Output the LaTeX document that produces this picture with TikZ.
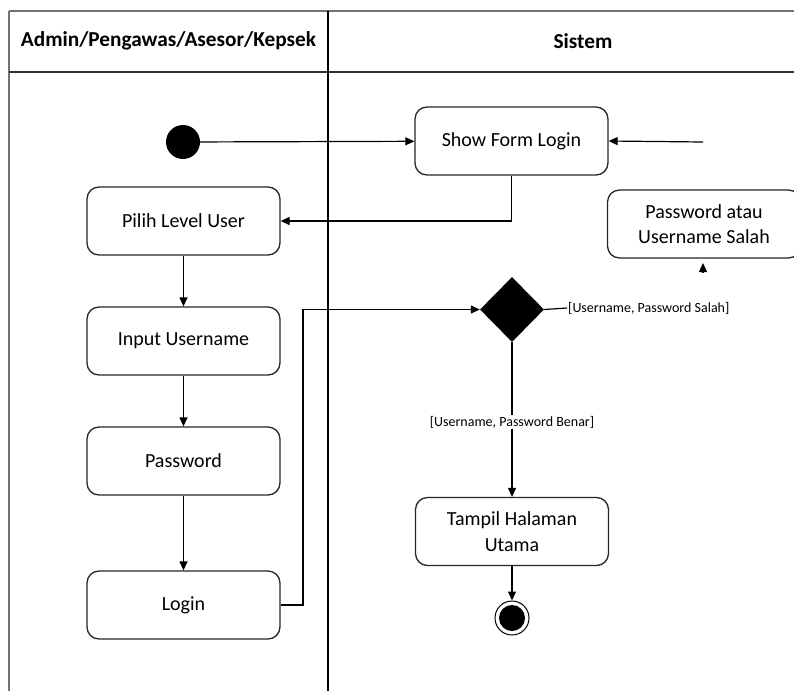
\documentclass[tikz,border=0pt]{standalone}
\usepackage{fontspec}
\setmainfont{Carlito}
\usetikzlibrary{arrows.meta,shapes.geometric}
\begin{document}
\begin{tikzpicture}[x=1pt,y=-1pt,
  act/.style={draw=black!85,line width=1.3pt,rounded corners=12pt,minimum width=193pt,minimum height=68pt,align=center,font=\fontsize{20}{25.5}\selectfont,fill=white,inner sep=2pt},
  arr/.style={line width=1.2pt,-{Triangle[length=9pt,width=8pt]}},
  ln/.style={line width=1.2pt},
  guard/.style={font=\fontsize{14}{16}\selectfont,inner sep=1pt,fill=white},
  lane/.style={line width=2pt},
  hdr/.style={font=\bfseries\fontsize{21.3}{24}\selectfont}]
\useasboundingbox (0,0) rectangle (794,691);
\fill[white] (0,0) rectangle (794,691);
% swimlane frame
\draw[lane,draw=black!55] (9,11) -- (794,11);
\draw[lane,draw=black!55] (9,11) -- (9,691);
\draw[lane,draw=black!80] (9,72) -- (794,72);
\draw[lane,draw=black] (328,11) -- (328,691);
\node[hdr] (h1) at (168.5,41) {Admin/Pengawas/Asesor/Kepsek};
\node[hdr] (h2) at (583,41) {Sistem};
% nodes
\node[circle,fill=black,minimum size=34pt,inner sep=0pt] (start) at (183,142) {};
\node[act] (sf) at (511.5,141) {Show Form Login};
\node[act] (pilih) at (183.5,221) {Pilih Level User};
\node[act] (input) at (183.5,341) {Input Username};
\node[act] (pass) at (183.5,461) {Password};
\node[act] (login) at (183.5,605) {Login};
\node[act] (pw) at (704,224) {Password atau\\Username Salah};
\node[diamond,fill=black,minimum width=64pt,minimum height=65pt,inner sep=0pt] (dec) at (512,309.5) {};
\node[guard,anchor=west] (salah) at (567,308) {[Username, Password Salah]};
\node[act] (tampil) at (512,531.5) {Tampil Halaman\\Utama};
\node[circle,draw=black,line width=1pt,minimum size=34pt,inner sep=0pt] (end) at (512,618) {};
\node[circle,fill=black,minimum size=26pt,inner sep=0pt] (endin) at (end) {};
\coordinate (ext) at (703,142);
\coordinate (pwtail) at (703,272);
\coordinate (pwtip) at (703,263);
\coordinate (bend) at (303,605);
% connectors
\draw[arr] (start) -- (sf);
\draw[arr] (ext) -- (sf.east);
\draw[arr] (sf.south) |- (pilih.east);
\draw[arr] (pilih) -- (input);
\draw[arr] (input) -- (pass);
\draw[arr] (pass) -- (login);
\draw[arr] (login.east) -- (bend) |- (dec.west);
\draw[ln] (dec.east) -- (salah.west);
\draw[arr] (pwtail) -- (pwtip);
\draw[arr] (dec.south) -- (tampil.north);
\node[guard] (benar) at (512,422) {[Username, Password Benar]};
\draw[arr] (tampil.south) -- (end.north);
\end{tikzpicture}
\end{document}
